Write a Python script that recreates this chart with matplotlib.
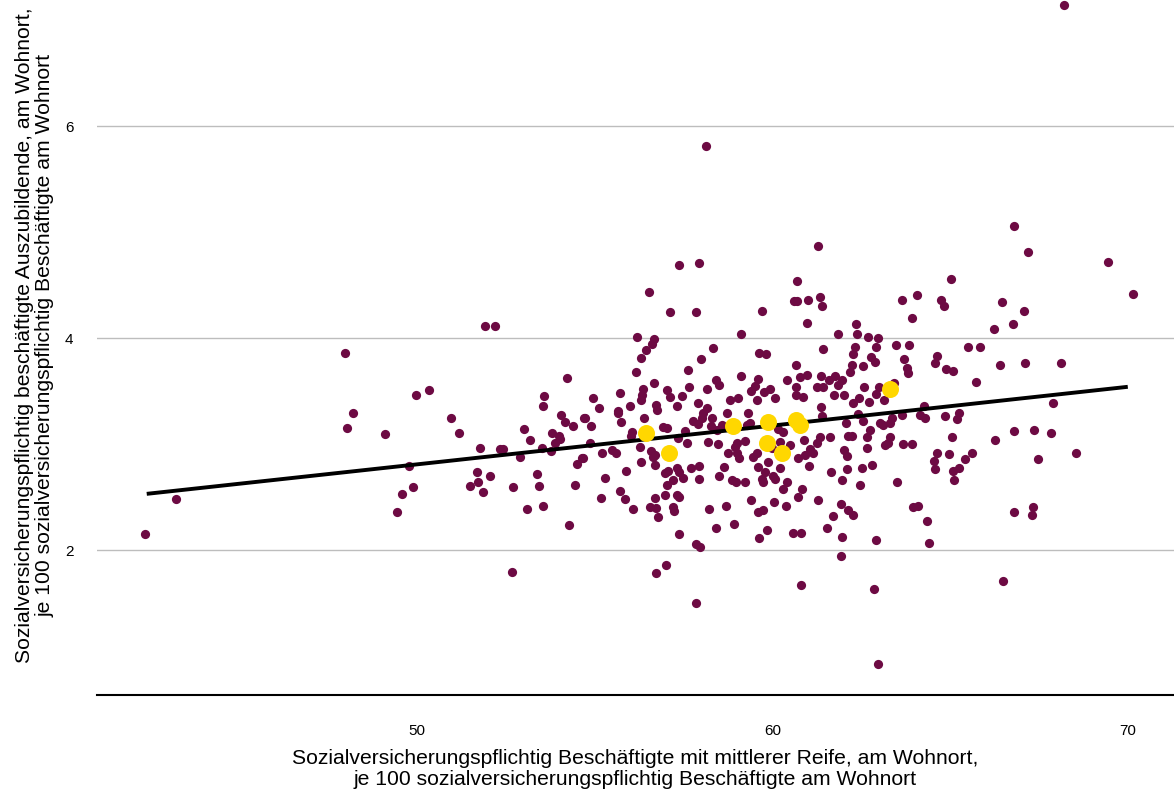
import numpy as np
import matplotlib
matplotlib.use("Agg")
import matplotlib.pyplot as plt

plt.rcParams["font.family"] = ["Liberation Sans", "DejaVu Sans"]

# Kreise (alle), x = mittlere Reife je 100 SvB, y = Auszubildende je 100 SvB
kreise = [
    (51.91, 4.11), (52.19, 4.11), (47.97, 3.86), (54.22, 3.62), (49.97, 3.46), (50.34, 3.51),
    (48.20, 3.29), (48.03, 3.15), (49.10, 3.09), (50.96, 3.25), (51.18, 3.10), (53.57, 3.45),
    (53.54, 3.36), (54.05, 3.27), (54.16, 3.21), (54.39, 3.17), (54.70, 3.25), (53.01, 3.14),
    (53.18, 3.04), (53.80, 3.10), (54.00, 3.08), (54.02, 3.05), (53.88, 3.01), (53.52, 2.96),
    (53.77, 2.93), (51.77, 2.96), (52.33, 2.95), (52.42, 2.95), (52.90, 2.88), (49.77, 2.79),
    (54.64, 2.87), (54.50, 2.81), (51.69, 2.74), (51.72, 2.64), (51.49, 2.60), (51.86, 2.55),
    (52.05, 2.70), (53.38, 2.72), (53.43, 2.60), (52.70, 2.59), (54.44, 2.61), (49.89, 2.59),
    (49.58, 2.53), (49.44, 2.36), (53.09, 2.39), (53.54, 2.42), (54.28, 2.24), (43.22, 2.48),
    (42.35, 2.15), (52.67, 1.79),
    (66.79, 5.06), (67.19, 4.81), (69.44, 4.72), (70.14, 4.42), (66.46, 4.34), (67.07, 4.26),
    (66.77, 4.13), (66.40, 3.75), (67.10, 3.76), (68.12, 3.76), (67.89, 3.39), (66.79, 3.12),
    (67.36, 3.13), (67.83, 3.10), (67.47, 2.86), (68.54, 2.92), (66.79, 2.36), (67.33, 2.41),
    (67.30, 2.33), (66.48, 1.71),
    (68.20, 7.14), (58.13, 5.81),
    (56.72, 1.78), (57.00, 1.86), (57.85, 1.50), (60.80, 1.67), (62.86, 1.63), (62.97, 0.92),
    (57.37, 4.69), (57.93, 4.71), (56.53, 4.43), (57.12, 4.25), (57.85, 4.25), (59.70, 4.26),
    (56.19, 4.01), (56.67, 3.99), (56.61, 3.94), (56.44, 3.89), (59.11, 4.04), (56.30, 3.81),
    (58.33, 3.91), (59.62, 3.86), (59.82, 3.85), (57.99, 3.80), (56.16, 3.68), (57.62, 3.70),
    (59.11, 3.64), (59.59, 3.61), (58.41, 3.60), (58.50, 3.56), (56.67, 3.58), (60.41, 3.60),
    (54.95, 3.43), (55.71, 3.48), (56.36, 3.52), (56.33, 3.46), (56.30, 3.42), (57.03, 3.51),
    (57.12, 3.44), (57.45, 3.45), (57.65, 3.54), (58.16, 3.52), (59.40, 3.50), (59.51, 3.55),
    (59.76, 3.49), (59.93, 3.52), (60.07, 3.43), (58.80, 3.42), (59.03, 3.43), (59.56, 3.42),
    (55.99, 3.36), (56.72, 3.37), (57.31, 3.36), (57.90, 3.39), (58.16, 3.34), (55.12, 3.34),
    (55.65, 3.31),
    (61.28, 4.87), (60.69, 4.54), (65.02, 4.56), (60.61, 4.35), (60.69, 4.35), (61.00, 4.36),
    (61.34, 4.39), (61.39, 4.30), (63.64, 4.36), (64.06, 4.41), (64.74, 4.36), (64.82, 4.30),
    (63.92, 4.19), (60.97, 4.14), (62.35, 4.13), (66.23, 4.09), (61.84, 4.04), (62.38, 4.04),
    (62.69, 4.01), (62.97, 4.00), (61.42, 3.90), (62.32, 3.92), (62.91, 3.92), (63.47, 3.93),
    (63.84, 3.93), (65.50, 3.92), (65.84, 3.92), (62.26, 3.85), (62.77, 3.82), (62.88, 3.77),
    (63.70, 3.80), (64.63, 3.83), (64.57, 3.76), (60.66, 3.75), (62.24, 3.75), (62.18, 3.68),
    (62.55, 3.74), (63.78, 3.72), (63.81, 3.67), (64.88, 3.71), (65.08, 3.69), (60.77, 3.63),
    (60.97, 3.65), (61.36, 3.64), (61.76, 3.64), (61.95, 3.60), (61.59, 3.60), (61.84, 3.56),
    (65.72, 3.59), (61.25, 3.54), (61.42, 3.54), (62.57, 3.54), (63.00, 3.54), (63.42, 3.58),
    (60.66, 3.54), (60.66, 3.46), (60.86, 3.44), (61.73, 3.46), (62.01, 3.46), (62.43, 3.43),
    (62.26, 3.39), (62.71, 3.40), (62.91, 3.47), (63.14, 3.42), (61.36, 3.35), (64.26, 3.36),
    (54.73, 3.25), (54.89, 3.17), (55.65, 3.29), (55.74, 3.21), (56.05, 3.11), (56.02, 3.08),
    (56.39, 3.25), (56.92, 3.16), (57.03, 3.15), (56.75, 3.32), (57.54, 3.12), (57.34, 3.06),
    (57.76, 3.22), (57.90, 3.19), (58.02, 3.25), (58.05, 3.29), (58.30, 3.25), (58.27, 3.17),
    (58.44, 3.13), (58.19, 3.02), (58.47, 3.00), (58.72, 3.29), (58.58, 3.18), (59.28, 3.18),
    (59.31, 3.29), (59.37, 3.20), (60.15, 3.14), (60.30, 3.11), (60.21, 3.02), (60.49, 2.99),
    (59.99, 2.96), (59.23, 3.03), (59.00, 3.01), (58.95, 2.97), (54.87, 3.01), (54.67, 2.87),
    (55.20, 2.92), (55.49, 2.94), (55.60, 2.92), (56.27, 2.97), (56.30, 2.83), (56.58, 2.93),
    (56.69, 2.90), (56.64, 2.88), (56.69, 2.80), (55.88, 2.75), (57.59, 3.01), (56.98, 2.73),
    (57.06, 2.75), (57.31, 2.77), (57.37, 2.74), (57.20, 2.66), (57.48, 2.68), (57.03, 2.61),
    (57.71, 2.77), (57.93, 2.79), (57.93, 2.67), (55.29, 2.68), (55.71, 2.56), (55.85, 2.48),
    (55.18, 2.49), (56.08, 2.39), (56.55, 2.41), (56.72, 2.40), (56.69, 2.49), (56.78, 2.31),
    (56.98, 2.52), (57.31, 2.52), (57.37, 2.50), (57.20, 2.41), (57.23, 2.37), (57.37, 2.15),
    (57.85, 2.06), (57.96, 2.03), (58.21, 2.39), (58.41, 2.21), (58.69, 2.42), (58.92, 2.25),
    (58.50, 2.70), (58.64, 2.78), (58.86, 2.66), (58.97, 2.64), (59.23, 2.64), (58.75, 2.92),
    (59.00, 2.92), (59.06, 2.87), (59.59, 2.78), (59.79, 2.74), (59.70, 2.67), (59.73, 2.64),
    (60.01, 2.70), (60.07, 2.67), (59.87, 2.83), (60.21, 2.77), (59.56, 2.92), (59.45, 2.88),
    (60.30, 2.58), (60.41, 2.64), (59.40, 2.47), (60.04, 2.45), (59.59, 2.36), (59.73, 2.38),
    (60.38, 2.42), (59.85, 2.19), (59.62, 2.11),
    (61.39, 3.26), (62.41, 3.28), (62.55, 3.22), (62.07, 3.20), (63.02, 3.20), (63.11, 3.18),
    (63.31, 3.20), (63.36, 3.25), (63.64, 3.27), (64.15, 3.27), (64.29, 3.25), (64.85, 3.26),
    (65.19, 3.24), (65.25, 3.29), (60.89, 3.04), (61.34, 3.07), (61.25, 3.01), (61.62, 3.07),
    (62.12, 3.08), (62.24, 3.08), (62.66, 3.07), (62.74, 3.13), (62.66, 2.96), (63.31, 3.07),
    (63.16, 2.99), (63.25, 3.01), (63.67, 3.00), (63.92, 3.00), (65.05, 3.07), (66.26, 3.04),
    (60.72, 2.87), (60.91, 2.90), (61.06, 2.95), (61.14, 2.92), (61.03, 2.79), (62.01, 2.94),
    (62.10, 2.89), (61.65, 2.74), (62.10, 2.76), (62.52, 2.77), (62.80, 2.80), (61.95, 2.66),
    (62.46, 2.61), (63.50, 2.64), (64.63, 2.92), (64.54, 2.84), (64.57, 2.76), (64.96, 2.91),
    (65.61, 2.92), (65.41, 2.86), (65.08, 2.75), (65.25, 2.77), (65.11, 2.66), (60.83, 2.58),
    (60.72, 2.50), (61.28, 2.47), (61.93, 2.43), (62.12, 2.38), (62.26, 2.33), (61.70, 2.32),
    (61.53, 2.21), (60.58, 2.16), (60.80, 2.16), (61.95, 2.12), (62.91, 2.09), (63.95, 2.41),
    (64.09, 2.42), (64.35, 2.27), (64.40, 2.07), (61.93, 1.94),
]
kreise_x = [p[0] for p in kreise]
kreise_y = [p[1] for p in kreise]

# hervorgehobene Kreise
highlight_x = [56.44, 57.09, 58.89, 59.87, 59.85, 60.27, 60.66, 60.77, 63.31]
highlight_y = [3.10, 2.92, 3.17, 3.21, 3.01, 2.92, 3.23, 3.18, 3.52]

# Trendlinie (Endpunkte)
trend_x = [42.4, 70.0]
trend_y = [2.53, 3.54]

xticks = [50, 60, 70]
yticks = [2, 4, 6]

fig = plt.figure(figsize=(11.74, 7.93), dpi=100)
ax = fig.add_axes([0.0826, 0.1236, 0.9174, 0.8764])

ax.scatter(kreise_x, kreise_y, s=44, color="#6d0a43", linewidths=0, zorder=2)
ax.plot(trend_x, trend_y, color="black", lw=2.8, zorder=3, solid_capstyle="butt")
ax.scatter(highlight_x, highlight_y, s=150, color="#ffd700", linewidths=0, zorder=4)

ax.set_xlim(41.0, 71.3)
ax.set_ylim(0.632, 7.19)
ax.set_xticks(xticks)
ax.set_yticks(yticks)
ax.tick_params(length=0, labelsize=11)
ax.tick_params(axis="x", pad=21)
ax.tick_params(axis="y", pad=17)

ax.grid(axis="y", color="#bdbdbd", lw=1)
ax.set_axisbelow(True)
for side in ["top", "right", "left"]:
    ax.spines[side].set_visible(False)
ax.spines["bottom"].set_linewidth(1.5)

ax.set_xlabel("Sozialversicherungspflichtig Beschäftigte mit mittlerer Reife, am Wohnort,\n"
              "je 100 sozialversicherungspflichtig Beschäftigte am Wohnort",
              fontsize=15.2, linespacing=1.12)
ax.set_ylabel("Sozialversicherungspflichtig beschäftigte Auszubildende, am Wohnort,\n"
              "je 100 sozialversicherungspflichtig Beschäftigte am Wohnort",
              fontsize=15.2, linespacing=1.12)
ax.xaxis.set_label_coords(0.5, -0.078)
ax.yaxis.set_label_coords(-0.039, 0.518)

fig.savefig("out.png", dpi=100)
